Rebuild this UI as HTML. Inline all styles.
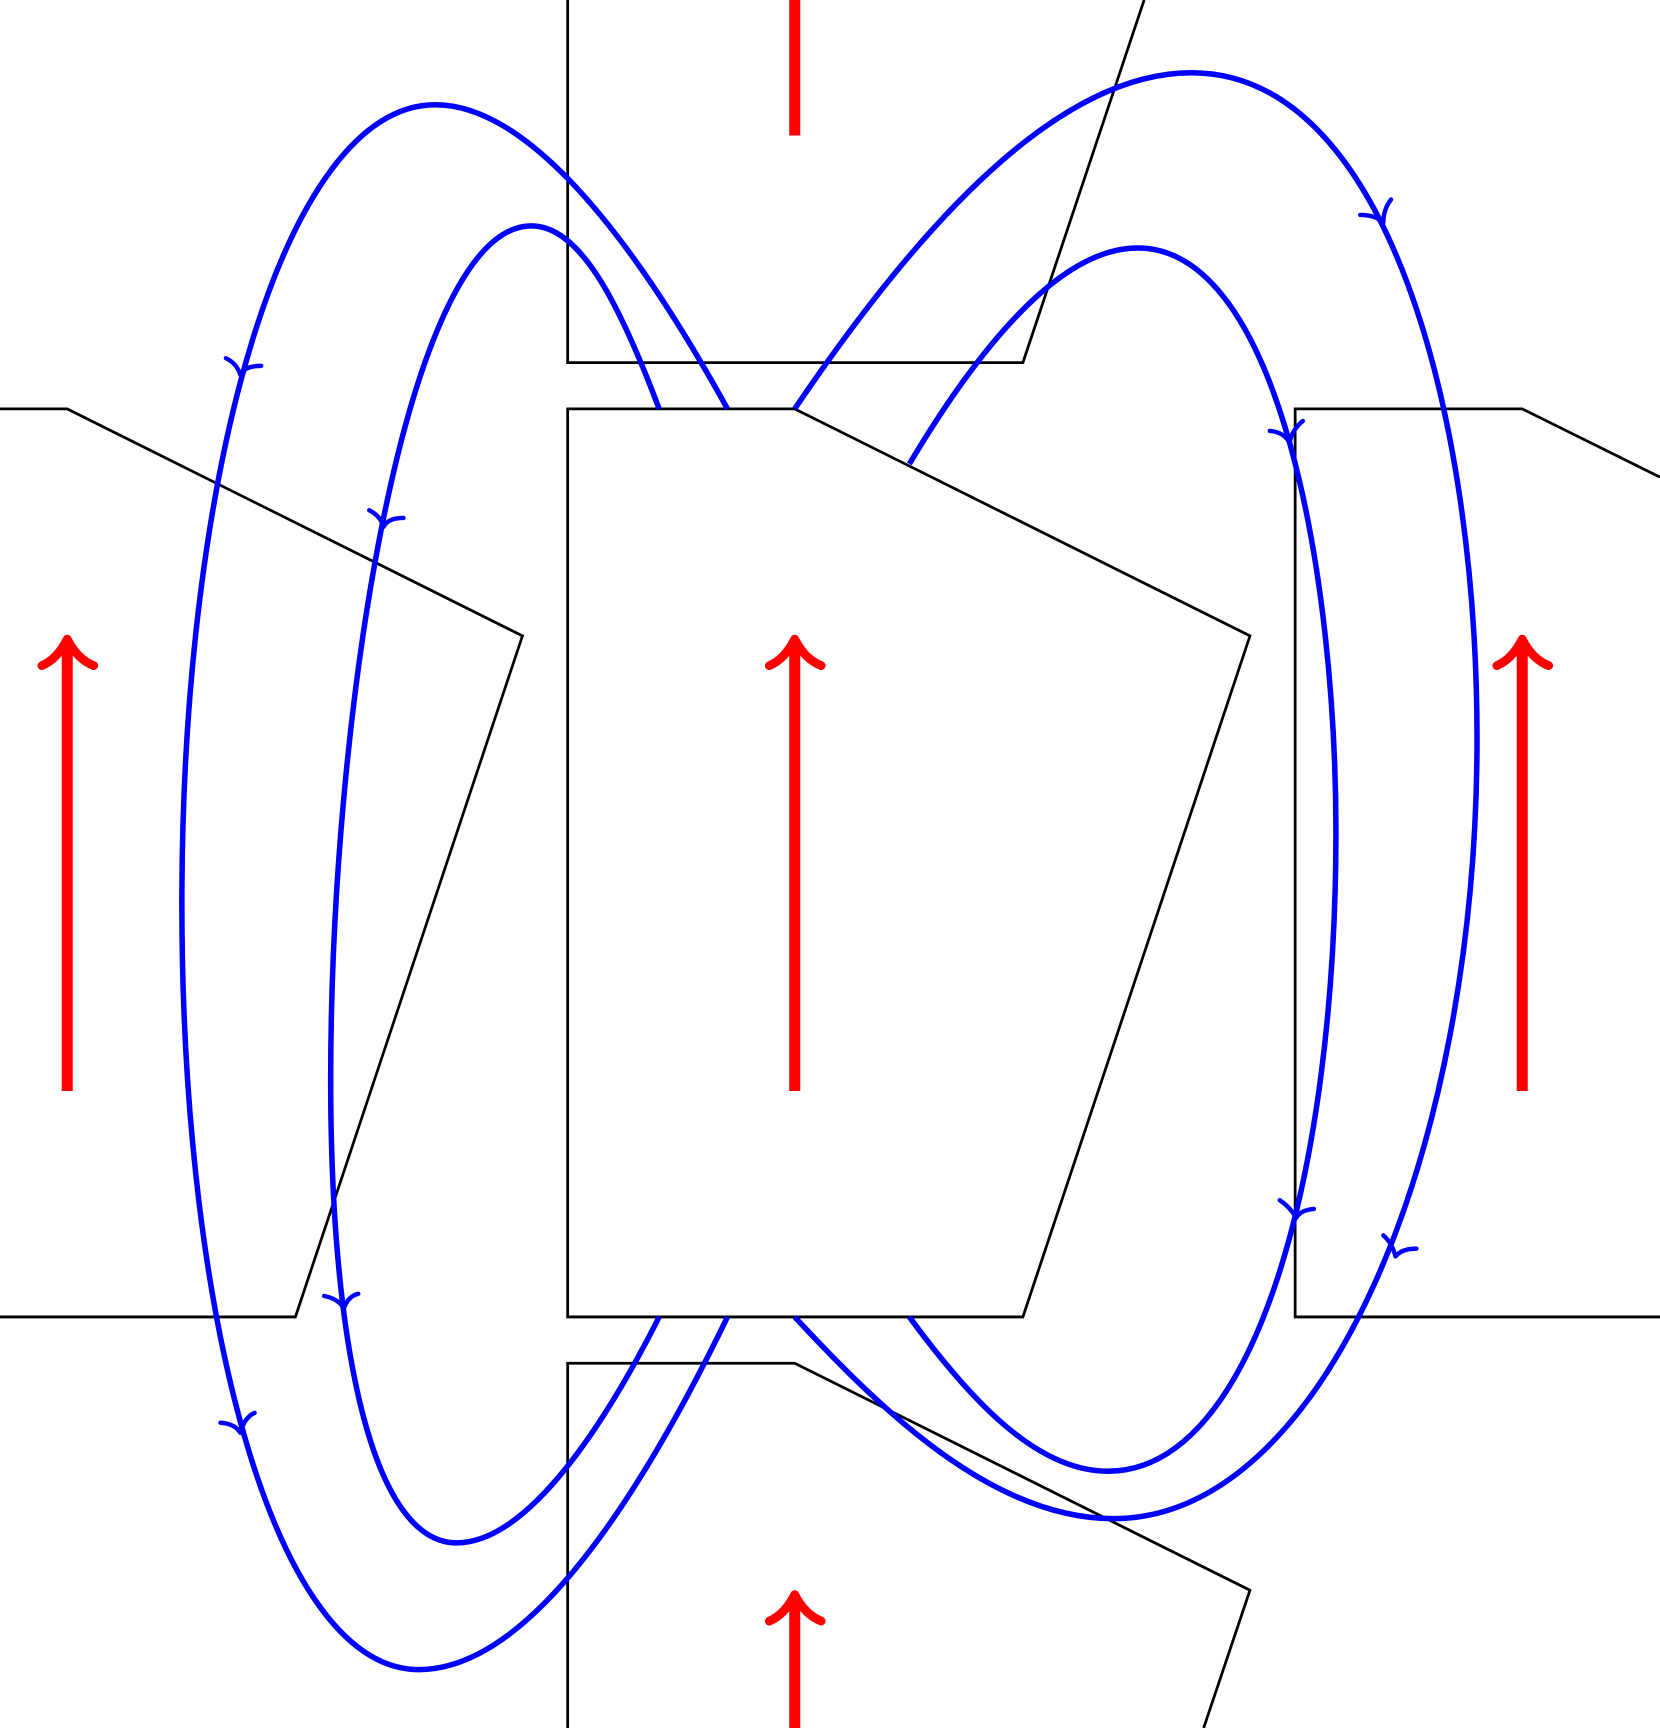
<!DOCTYPE html>
<html><head><meta charset="utf-8"><style>
html,body{margin:0;padding:0;background:#fff;}
svg{display:block;}
</style></head><body>
<svg width="1660" height="1728" viewBox="0 0 1506 1568" xmlns="http://www.w3.org/2000/svg" preserveAspectRatio="none">
<g fill="none" stroke="#000" stroke-width="2.5" stroke-linejoin="miter">
<polyline points="515,0 515,329 928,329 1038,0"/>
<polygon points="515,371 721,371 1134,577 928,1195 515,1195"/>
<polyline points="0,371 61,371 474,577 268,1195 0,1195"/>
<polyline points="1506,1195 1175,1195 1175,371 1381,371 1506,433"/>
<polyline points="515,1568 515,1237 721,1237 1134,1443 1092,1568"/>
</g>
<g stroke="#ff0000" stroke-width="10" fill="none">
<line x1="61" y1="990" x2="61" y2="585"/>
<line x1="721" y1="990" x2="721" y2="585"/>
<line x1="1381" y1="990" x2="1381" y2="585"/>
<line x1="721" y1="0" x2="721" y2="123"/>
<line x1="721" y1="1568" x2="721" y2="1452"/>
</g>
<g stroke="#ff0000" stroke-width="8" fill="none" stroke-linecap="round" stroke-linejoin="round">
<path d="M38,604 Q52,598 61,580 Q70,598 85,604"/>
<path d="M698,604 Q712,598 721,580 Q730,598 745,604"/>
<path d="M1358,604 Q1372,598 1381,580 Q1390,598 1405,604"/>
<path d="M698,1471 Q712,1465 721,1447 Q730,1465 745,1471"/>
</g>
<g stroke="#0000ff" stroke-width="5" fill="none">
<path d="M660,371 C560,190 470,95 395,95 C260,95 165,420 165,820 C165,1200 250,1515 380,1515 C480,1515 580,1360 660,1195"/>
<path d="M598,371 C560,270 525,205 482,205 C370,205 300,640 300,980 C300,1230 340,1400 414,1400 C480,1400 550,1290 598,1195"/>
<path d="M721,371 C850,180 970,66 1081,66 C1260,66 1340,380 1340,670 C1340,1050 1200,1378 1010,1378 C900,1378 800,1280 721,1195"/>
<path d="M825,421 C900,295 970,225 1032,225 C1160,225 1212,520 1212,755 C1212,1060 1140,1335 1005,1335 C940,1335 880,1270 825,1195"/>
</g>
<g stroke="#0000ff" stroke-width="4" fill="none" stroke-linecap="round" stroke-linejoin="round">
<path d="M205,325 Q215,330 218,340 Q222,332 237,332"/>
<path d="M335,463 Q345,468 348,478 Q352,470 366,470"/>
<path d="M294,1176 Q306,1178 312,1187 Q316,1176 325,1174"/>
<path d="M200,1291 Q213,1292 218,1300 Q222,1286 231,1282"/>
<path d="M1234,195 Q1248,195 1255,202 Q1255,190 1262,181"/>
<path d="M1152,391 Q1165,392 1170,402 Q1172,390 1182,382"/>
<path d="M1161,1089 Q1170,1095 1176,1105 Q1180,1098 1192,1097"/>
<path d="M1255,1121 Q1263,1128 1266,1140 Q1272,1133 1285,1133"/>
</g>
</svg>
</body></html>
